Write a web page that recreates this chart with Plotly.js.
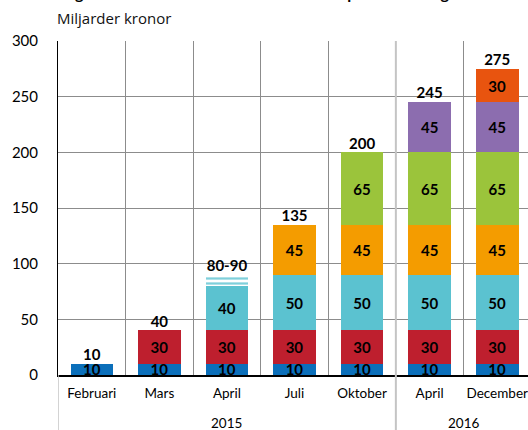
<!DOCTYPE html>
<html>
<head>
<meta charset="utf-8">
<script src="https://cdn.plot.ly/plotly-3.0.1.min.js"></script>
<style>
  html, body { margin: 0; padding: 0; overflow: hidden; background: #fff; }
  #chart { width: 532px; height: 430px; }
</style>
</head>
<body>
<div id="chart"></div>
<script>
// Category ids (unique), month tick labels and year groups
const categoryIds = ['Feb 2015', 'Mar 2015', 'Apr 2015', 'Jul 2015', 'Okt 2015', 'Apr 2016', 'Dec 2016'];
const monthLabels = ['Februari', 'Mars', 'April', 'Juli', 'Oktober', 'April', 'December'];
const yearLabels = ['2015', '2016'];

// Stacked series (miljarder kronor)
const layer1 = [10, 10, 10, 10, 10, 10, 10];
const layer2 = [null, 30, 30, 30, 30, 30, 30];
const layer3 = [null, null, 40, 50, 50, 50, 50];
const layer3Range = [null, null, 10, null, null, null, null]; // 80-90 interval
const layer4 = [null, null, null, 45, 45, 45, 45];
const layer5 = [null, null, null, null, 65, 65, 65];
const layer6 = [null, null, null, null, null, 45, 45];
const layer7 = [null, null, null, null, null, null, 30];

// Totals above each bar
const totalValues = [10, 40, 90, 135, 200, 245, 275];
const totalLabels = ['10', '40', '80-90', '135', '200', '245', '275'];

const FONT = 'Lato, "Liberation Sans", sans-serif';
const barWidth = 0.63;

function barTrace(vals, color, showText, extra) {
  const t = {
    type: 'bar',
    x: categoryIds,
    y: vals,
    width: barWidth,
    marker: { color: color, line: { width: 0 } },
    text: showText ? vals.map(v => v == null ? '' : String(v)) : undefined,
    textposition: showText ? 'inside' : 'none',
    insidetextanchor: 'middle',
    textangle: 0,
    constraintext: 'none',
    textfont: { family: FONT, size: 15, color: '#000', weight: 'bold' },
    hoverinfo: 'skip',
    showlegend: false
  };
  return Object.assign(t, extra || {});
}

const traces = [
  barTrace(layer1, '#0B6FBA', true),
  barTrace(layer2, '#BE1F2E', true),
  barTrace(layer3, '#5BC2D0', true),
  barTrace(layer3Range, '#FFFFFF', false, {
    marker: {
      color: '#FFFFFF',
      line: { width: 0 },
      pattern: { shape: '-', fgcolor: '#7FD0DB', bgcolor: '#FFFFFF', size: 5, solidity: 0.45 }
    }
  }),
  barTrace(layer4, '#F49C00', true),
  barTrace(layer5, '#9BC43B', true),
  barTrace(layer6, '#8C6DAF', true),
  barTrace(layer7, '#E8540F', true),
  {
    type: 'scatter',
    mode: 'text',
    x: categoryIds,
    y: totalValues,
    text: totalLabels,
    textposition: 'top center',
    textfont: { family: FONT, size: 15, color: '#000', weight: 'bold' },
    hoverinfo: 'skip',
    showlegend: false,
    cliponaxis: false
  }
];

const layout = {
  width: 532,
  height: 430,
  margin: { l: 58, r: 1, t: 41, b: 55 },
  paper_bgcolor: '#FFFFFF',
  plot_bgcolor: '#FFFFFF',
  barmode: 'stack',
  showlegend: false,
  font: { family: FONT, color: '#000' },
  xaxis: {
    type: 'category',
    tickmode: 'array',
    tickvals: categoryIds,
    ticktext: monthLabels,
    tickson: 'boundaries',
    ticks: '',
    tickangle: 0,
    showgrid: true,
    gridcolor: '#8C8C8C',
    gridwidth: 1,
    showline: true,
    linecolor: '#000',
    linewidth: 1.5,
    tickfont: { family: FONT, size: 13.5, color: '#000' },
    ticklabelstandoff: 5,
    range: [-0.5, 6.5],
    fixedrange: true
  },
  yaxis: {
    range: [0, 300],
    tickvals: [0, 50, 100, 150, 200, 250, 300],
    showgrid: true,
    gridcolor: '#8C8C8C',
    gridwidth: 1,
    zeroline: false,
    showline: true,
    linecolor: '#000',
    linewidth: 1,
    ticks: '',
    tickfont: { family: FONT, size: 15, color: '#000' },
    ticklabelstandoff: 16,
    fixedrange: true
  },
  shapes: [
    { type: 'line', xref: 'x', yref: 'paper', x0: 4.5, x1: 4.5, y0: 1, y1: -0.165,
      line: { color: '#C4C4C4', width: 2 }, layer: 'above' },
    { type: 'line', xref: 'x', yref: 'paper', x0: -0.5, x1: -0.5, y0: 0, y1: -0.165,
      line: { color: '#C4C4C4', width: 1.5 }, layer: 'above' }
  ],
  annotations: [
    { xref: 'x', yref: 'paper', x: 2, y: 0, yanchor: 'middle', yshift: -48, text: yearLabels[0], showarrow: false,
      font: { family: FONT, size: 13.5, color: '#000' } },
    { xref: 'x', yref: 'paper', x: 5.5, y: 0, yanchor: 'middle', yshift: -48, text: yearLabels[1], showarrow: false,
      font: { family: FONT, size: 13.5, color: '#000' } },
    { xref: 'paper', yref: 'paper', x: 0, xanchor: 'left', xshift: -3, y: 1, yanchor: 'bottom', yshift: 11,
      text: 'Miljarder kronor', showarrow: false,
      font: { family: '"Open Sans", sans-serif', size: 15, color: '#111' } },
    { xref: 'paper', yref: 'paper', x: 0, xanchor: 'left', xshift: 2, y: 1, yanchor: 'bottom', yshift: 37,
      text: 'Figur 1. Riksbankens totala beslutade köp av statsobligationer', showarrow: false,
      font: { family: FONT, size: 16, color: '#000', weight: 'bold' } }
  ]
};

Plotly.newPlot('chart', traces, layout, { displayModeBar: false, staticPlot: true });
</script>
</body>
</html>
